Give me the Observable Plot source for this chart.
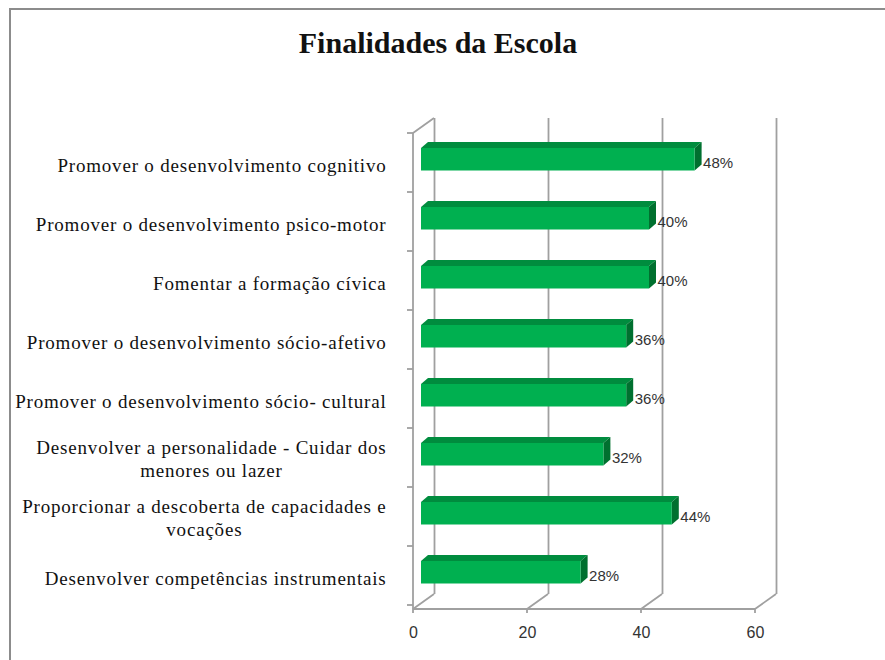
<!DOCTYPE html>
<html>
<head>
<meta charset="utf-8">
<script src="https://cdn.jsdelivr.net/npm/d3@7"></script>
<script src="https://cdn.jsdelivr.net/npm/@observablehq/plot@0.6"></script>
<style>
  body { margin: 0; background: #fff; }
  #wrap { position: relative; width: 885px; height: 660px; overflow: hidden; background: #fff; }
  #frame { position: absolute; left: 9px; top: 8px; width: 900px; height: 700px;
           border-left: 2px solid #8c8c8c; border-top: 2px solid #8c8c8c; box-sizing: border-box; }
  #title { position: absolute; left: 0; top: 28px; width: 876px; text-align: center;
           font: bold 30px "Liberation Serif", serif; line-height: 30px; color: #111; }
  #chart { position: absolute; left: 0; top: 80px; }
  #chart svg g[font-family="Liberation Serif"] text { letter-spacing: 0.8px; }
</style>
</head>
<body>
<div id="wrap">
  <div id="frame"></div>
  <div id="title"></div>
  <div id="chart"></div>
</div>
<script>
// ---- data ----
const title = "Finalidades da Escola";
const categories = [
  "Promover o desenvolvimento cognitivo",
  "Promover o desenvolvimento psico-motor",
  "Fomentar a formação cívica",
  "Promover o desenvolvimento sócio-afetivo",
  "Promover o desenvolvimento sócio- cultural",
  "Desenvolver a personalidade - Cuidar dos\nmenores ou lazer",
  "Proporcionar a descoberta de capacidades e\nvocações",
  "Desenvolver competências instrumentais"
];
const values = [48, 40, 40, 36, 36, 32, 44, 28];
const xTicks = [0, 20, 40, 60];
const xDomain = [0, 60];

// ---- styles ----
const GRID = "#a0a0a0";
const GRID_W = 1.8;
const DEPTH_DX = 21, DEPTH_DY = -15;      // wall depth offset
const BAR_DX = 8;                        // bar front face offset
const FACE_DX = 7, FACE_DY = -6;         // bar thickness
const BAR_INSET_TOP = 13, BAR_INSET_BOTTOM = 23.5;
const C_FRONT = "#00B050", C_TOP = "#008C3E", C_SIDE = "#00702F";
const LBL_SIZE = 19, LBL_LS = 0.8, LBL_GAP = 27;

document.getElementById("title").textContent = title;

const data = categories.map((c, i) => ({cat: c, value: values[i]}));

// measure label block widths
const ctx = document.createElement("canvas").getContext("2d");
ctx.font = `${LBL_SIZE}px "Liberation Serif"`;
const blockWidth = s => Math.max(...s.split("\n").map(l => ctx.measureText(l).width + l.length * LBL_LS));

function walls(index, scales, values, dim) {
  const x = scales.x, y = scales.y;
  const top = dim.marginTop, bot = dim.height - dim.marginBottom;
  const x0 = x(xDomain[0]), x1 = x(xDomain[1]);
  const step = y(categories[1]) - y(categories[0]);
  const g = d3.create("svg:g").attr("stroke", GRID).attr("stroke-width", GRID_W).attr("fill", "none");
  const line = (a, b, c, d) => g.append("line").attr("x1", a).attr("y1", b).attr("x2", c).attr("y2", d);
  line(x0, top, x0, bot);
  line(x0, top, x0 + DEPTH_DX, top + DEPTH_DY);
  line(x0, bot, x1, bot);
  for (const t of xTicks) {
    line(x(t), bot, x(t) + DEPTH_DX, bot + DEPTH_DY);
    line(x(t), bot, x(t), bot + 4);
  }
  for (let i = 0; i <= categories.length; i++) {
    const yb = top + i * step;
    line(x0 - 6, yb, x0, yb);
  }
  return g.node();
}

function barFaces(index, scales, values, dim) {
  const x = scales.x, y = scales.y;
  const step = y(categories[1]) - y(categories[0]);
  const g = d3.create("svg:g");
  for (const d of data) {
    const yt = y(d.cat) + BAR_INSET_TOP, yb = y(d.cat) + step - BAR_INSET_BOTTOM;
    const xa = x(0) + BAR_DX, xb = x(d.value) + BAR_DX;
    g.append("path").attr("fill", C_TOP)
      .attr("d", `M${xa},${yt}L${xa + FACE_DX},${yt + FACE_DY}L${xb + FACE_DX},${yt + FACE_DY}L${xb},${yt}Z`);
    g.append("path").attr("fill", C_SIDE)
      .attr("d", `M${xb},${yt}L${xb + FACE_DX},${yt + FACE_DY}L${xb + FACE_DX},${yb + FACE_DY}L${xb},${yb}Z`);
  }
  return g.node();
}

const labelMarks = categories.map(c => Plot.text([c], {
  x: () => 0, y: d => d, text: d => d,
  textAnchor: "middle", dx: -(LBL_GAP + blockWidth(c) / 2), dy: c.includes("\n") ? -2 : 0,
  fontSize: LBL_SIZE, fontFamily: "Liberation Serif", lineHeight: 1.2, fill: "#111"
}));

const chart = Plot.plot({
  width: 885,
  height: 580,
  marginLeft: 413,
  marginRight: 130,
  marginTop: 53,
  marginBottom: 51,
  style: {background: "transparent", overflow: "visible"},
  x: {domain: xDomain, axis: null},
  y: {domain: categories, padding: 0, axis: null},
  marks: [
    Plot.ruleX(xTicks, {dx: DEPTH_DX, dy: DEPTH_DY, stroke: GRID, strokeWidth: GRID_W}),
    walls,
    barFaces,
    Plot.barX(data, {x: "value", y: "cat", dx: BAR_DX, insetTop: BAR_INSET_TOP, insetBottom: BAR_INSET_BOTTOM, fill: C_FRONT}),
    Plot.text(data, {x: "value", y: "cat", text: d => d.value + "%", dx: 16, dy: -2, textAnchor: "start",
      fontSize: 15, fontFamily: "Liberation Sans", fill: "#333"}),
    Plot.axisX(xTicks, {tickSize: 0, tickPadding: 17, fontSize: 16, fontFamily: "Liberation Sans", fill: "#333", label: null}),
    ...labelMarks
  ]
});
document.getElementById("chart").appendChild(chart);
</script>
</body>
</html>
